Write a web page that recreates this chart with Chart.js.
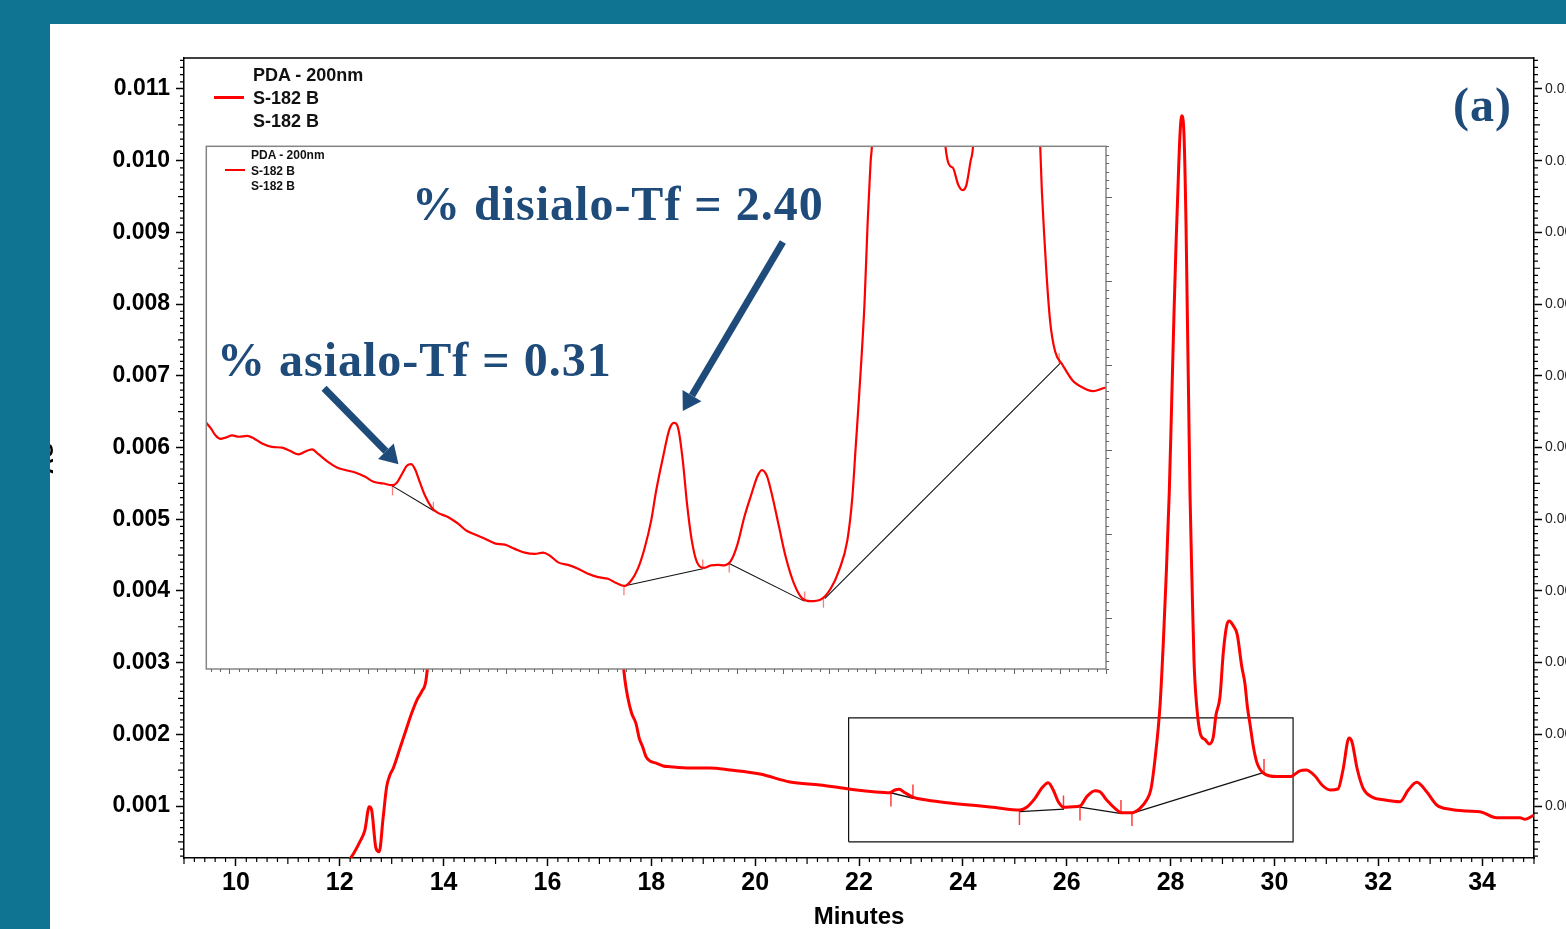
<!DOCTYPE html>
<html>
<head>
<meta charset="utf-8">
<script src="https://cdn.jsdelivr.net/npm/chart.js@4.4.1/dist/chart.umd.min.js"></script>
<style>
  html, body { margin: 0; padding: 0; width: 1566px; height: 929px; overflow: hidden; background: #0f7491; }
  #panel { position: absolute; left: 50px; top: 24px; right: 0; bottom: 0; background: #fff; }
  #principal { position: absolute; left: 0; top: 0; z-index: 1; }
  #inset { position: absolute; left: 200px; top: 140px; z-index: 2; }
  .leyenda { position: absolute; z-index: 3; font-family: 'Liberation Sans', Arial, sans-serif; font-weight: bold; color: #111; white-space: nowrap; }
  .muestra { position: absolute; z-index: 3; background: #ff0000; }
  .nota { position: absolute; z-index: 3; font-family: 'Liberation Serif', 'Times New Roman', serif; font-weight: bold; color: #1e4b7a; white-space: nowrap; font-size: 48px; line-height: 48px; letter-spacing: 1px; }
  #bordeIzq { position: absolute; left: 0; top: 0; width: 50px; height: 929px; background: #0f7491; z-index: 5; }
  #bordeSup { position: absolute; left: 0; top: 0; width: 1566px; height: 24px; background: #0f7491; z-index: 5; }
</style>
</head>
<body>
<div id="panel"></div>
<canvas id="principal" width="1620" height="940"></canvas>
<canvas id="inset" width="916" height="539"></canvas>

<div class="muestra" style="left:214px; top:96px; width:30px; height:3px;"></div>
<div class="leyenda" style="left:253px; top:64px; font-size:18px; line-height:23px;">PDA - 200nm<br>S-182 B<br>S-182 B</div>

<div class="muestra" style="left:225px; top:169px; width:20px; height:2px;"></div>
<div class="leyenda" style="left:251px; top:148px; font-size:12px; line-height:15.5px;">PDA - 200nm<br>S-182 B<br>S-182 B</div>

<div class="nota" style="left:412px; top:180px;">% disialo-Tf = 2.40</div>
<div class="nota" style="left:217px; top:336px;">% asialo-Tf = 0.31</div>
<div class="nota" style="left:1453px; top:81px;">(a)</div>

<div id="bordeIzq"></div>
<div id="bordeSup"></div>

<script>
// cromatograma principal: tiempo (min) y absorbancia (AU)
const tiempoPrincipal = [12.138, 12.228, 12.388, 12.484, 12.567, 12.614, 12.696, 12.760, 12.837, 12.903, 12.966, 13.030,
  13.159, 13.255, 13.384, 13.492, 13.577, 13.659, 13.95, 17.20, 17.492, 17.544, 17.621, 17.704, 17.768, 17.833, 17.897,
  17.974, 18.103, 18.230, 18.359, 18.744, 19.129, 19.515, 20.092, 20.670, 21.248, 21.633, 21.955, 22.275, 22.596, 22.692,
  22.775, 22.885, 23.045, 23.303, 23.688, 24.201, 24.586, 25.100, 25.229, 25.389, 25.518, 25.645, 25.741, 25.838, 25.948,
  26.127, 26.256, 26.385, 26.545, 26.641, 26.770, 26.930, 27.059, 27.252, 27.411, 27.540, 27.623, 27.700, 27.797, 27.860,
  27.912, 27.976, 28.022, 28.067, 28.105, 28.149, 28.182, 28.215, 28.259, 28.298, 28.323, 28.349, 28.374, 28.413, 28.452,
  28.504, 28.581, 28.664, 28.746, 28.823, 28.875, 28.952, 29.016, 29.081, 29.131, 29.208, 29.285, 29.370, 29.433, 29.478,
  29.530, 29.593, 29.659, 29.786, 30.044, 30.300, 30.493, 30.609, 30.782, 30.917, 31.071, 31.225, 31.321, 31.437, 31.495,
  31.591, 31.707, 31.880, 32.130, 32.419, 32.579, 32.741, 32.933, 33.126, 33.382, 33.704, 33.960, 34.282, 34.730, 34.827, 35.0];
const absPrincipal = [0.000219, 0.000293, 0.000502, 0.000665, 0.000990, 0.000944, 0.000414, 0.000363, 0.000851, 0.001269, 0.001432, 0.001526,
  0.001805, 0.002014, 0.002293, 0.002488, 0.002594, 0.002748, 0.0048, 0.0048, 0.002757, 0.002524, 0.002293, 0.002153, 0.001944, 0.001827, 0.001688,
  0.001628, 0.001596, 0.001558, 0.001548, 0.001530, 0.001530, 0.001502, 0.001446, 0.001335, 0.001293, 0.001255, 0.001223, 0.001199, 0.001185, 0.001223,
  0.001233, 0.001185, 0.001121, 0.001084, 0.001046, 0.001010, 0.000982, 0.000944, 0.000982, 0.001107, 0.001247, 0.001325, 0.001223, 0.001060, 0.000982,
  0.000990, 0.001000, 0.001130, 0.001213, 0.001199, 0.001084, 0.000968, 0.000907, 0.000907, 0.000968, 0.001084, 0.001237, 0.001647, 0.002395, 0.003265,
  0.004138, 0.005382, 0.006628, 0.007876, 0.008810, 0.009745, 0.010364, 0.010625, 0.010364, 0.009117, 0.007876, 0.006628, 0.005382, 0.004138, 0.003022,
  0.002395, 0.001990, 0.001927, 0.001865, 0.001962, 0.002269, 0.002520, 0.003141, 0.003515, 0.003580, 0.003515, 0.003391, 0.002953, 0.002706, 0.002395,
  0.002144, 0.001837, 0.001616, 0.001460, 0.001410, 0.001410, 0.001491, 0.001502, 0.001418, 0.001293, 0.001223, 0.001237, 0.001502, 0.001948, 0.001893,
  0.001530, 0.001251, 0.001126, 0.001084, 0.001060, 0.001223, 0.001331, 0.001199, 0.001014, 0.000954, 0.000930, 0.000920, 0.000837, 0.000837, 0.000815, 0.000874];

// lineas base de integracion [t1, a1, t2, a2] y marcas de inicio/fin de pico
const basePrincipal = [[22.610, 0.001185, 23.045, 0.001107], [25.100, 0.000921, 25.948, 0.000958],
  [26.256, 0.000986, 27.059, 0.000895], [27.252, 0.000898, 29.786, 0.001464]];
const marcasTiempo = [22.615, 23.039, 25.090, 25.938, 26.256, 27.045, 27.257, 29.800];
const marcasAbs = [0.001091, 0.001202, 0.000833, 0.001049, 0.000895, 0.000986, 0.000819, 0.001558];

// recuadro de la zona ampliada
const zoomTiempo = [21.8, 30.36];
const zoomAbs = [0.0005, 0.00223];

// ejes del principal
const ticksX = [10, 12, 14, 16, 18, 20, 22, 24, 26, 28, 30, 32, 34];
const ticksY = [0.001, 0.002, 0.003, 0.004, 0.005, 0.006, 0.007, 0.008, 0.009, 0.010, 0.011];
const rangoX = [9, 35];
const rangoY = [0.000275, 0.011432];

// ampliacion (inset)
const tiempoInset = [20.250, 20.296, 20.351, 20.405, 20.459, 20.531, 20.603, 20.693, 20.766, 20.855, 20.963, 21.072, 21.161,
  21.252, 21.323, 21.396, 21.468, 21.576, 21.666, 21.756, 21.864, 21.972, 22.063, 22.171, 22.261, 22.315, 22.369, 22.423,
  22.469, 22.512, 22.566, 22.621, 22.693, 22.747, 22.874, 22.982, 23.071, 23.161, 23.269, 23.377, 23.485, 23.593, 23.702,
  23.810, 23.900, 23.972, 24.063, 24.171, 24.279, 24.387, 24.495, 24.603, 24.693, 24.783, 24.855, 24.927, 24.999, 25.071,
  25.125, 25.198, 25.269, 25.317, 25.366, 25.414, 25.460, 25.511, 25.568, 25.647, 25.720, 25.792, 25.863, 25.936, 26.008,
  26.080, 26.152, 26.224, 26.271, 26.325, 26.387, 26.458, 26.530, 26.620, 26.711, 26.801, 26.909, 27.017, 27.107, 27.197,
  27.251, 27.287, 27.323, 27.384, 27.417, 27.449, 27.471, 27.900, 28.249, 28.260, 28.336, 28.400, 28.444, 28.487,
  28.530, 28.562, 28.830, 29.260, 29.287, 29.341, 29.395, 29.449, 29.525, 29.643, 29.719, 29.860, 29.968, 30.000];
const absInset = [0.001364, 0.001352, 0.001334, 0.001326, 0.001329, 0.001334, 0.001331, 0.001333, 0.001327, 0.001315, 0.001307, 0.001305, 0.001297,
  0.001289, 0.001296, 0.001301, 0.001289, 0.001270, 0.001258, 0.001252, 0.001246, 0.001236, 0.001224, 0.001220, 0.001216, 0.001222, 0.001242, 0.001262,
  0.001266, 0.001254, 0.001222, 0.001191, 0.001163, 0.001152, 0.001140, 0.001124, 0.001108, 0.001099, 0.001089, 0.001078, 0.001075, 0.001065, 0.001056,
  0.001053, 0.001056, 0.001049, 0.001033, 0.001027, 0.001018, 0.001006, 0.000998, 0.000994, 0.000984, 0.000977, 0.000990, 0.001018, 0.001066, 0.001132,
  0.001203, 0.001281, 0.001349, 0.001364, 0.001349, 0.001274, 0.001171, 0.001085, 0.001033, 0.001020, 0.001026, 0.001027, 0.001026, 0.001037, 0.001077,
  0.001140, 0.001191, 0.001238, 0.001252, 0.001238, 0.001187, 0.001116, 0.001045, 0.000982, 0.000947, 0.000941, 0.000945, 0.000971, 0.001014, 0.001085,
  0.001187, 0.001305, 0.001423, 0.001652, 0.001840, 0.001982, 0.002077, 0.010600, 0.002400, 0.002020, 0.001970, 0.001928, 0.001916, 0.001928,
  0.001982, 0.002029, 0.003580, 0.002300, 0.002020, 0.001770, 0.001604, 0.001533, 0.001503, 0.001463, 0.001451, 0.001439, 0.001446, 0.001448];
const baseInset = [[22.261, 0.001215, 22.711, 0.001156], [24.776, 0.000977, 25.630, 0.001018],
  [25.911, 0.001031, 26.730, 0.000941], [26.952, 0.000947, 29.503, 0.001505]];
const marcasInsetTiempo = [22.268, 22.711, 24.776, 25.630, 25.917, 26.735, 26.938, 29.492];
const marcasInsetAbs = [0.001204, 0.001165, 0.000967, 0.001028, 0.001021, 0.000952, 0.000937, 0.001517];
const rangoInsetX = [20.25, 30.0];
const rangoInsetY = [0.00078, 0.00202];

// flechas de las anotaciones [t desde, a desde, t hasta, a hasta]
const flechaAsialo = [21.526, 0.001446, 22.333, 0.001266];
const flechaDisialo = [26.498, 0.001793, 25.414, 0.001392];

const fuenteEje = "'Liberation Sans', Arial, sans-serif";

function puntos(ts, as) {
  return ts.map((t, i) => ({ x: t, y: as[i] }));
}

function datasetsBase(bases, grosor) {
  return bases.map(b => ({
    data: [{ x: b[0], y: b[1] }, { x: b[2], y: b[3] }],
    showLine: true, borderColor: '#111', borderWidth: grosor, pointRadius: 0
  }));
}

// marcas menores de los ejes (la libreria solo dibuja las principales)
const marcasMenores = {
  id: 'marcasMenores',
  afterDraw(chart) {
    const { ctx, chartArea } = chart;
    const x = chart.scales.x, y = chart.scales.y;
    ctx.save();
    ctx.strokeStyle = '#000';
    ctx.lineWidth = 1.2;
    ctx.beginPath();
    for (let k = 45; k <= 175; k++) {
      if (k % 10 === 0) continue;
      const px = x.getPixelForValue(k / 5);
      const largo = k % 5 === 0 ? 6 : 4;
      ctx.moveTo(px, chartArea.bottom);
      ctx.lineTo(px, chartArea.bottom + largo);
    }
    for (let k = 3; k <= 114; k++) {
      if (k % 10 === 0) continue;
      const py = y.getPixelForValue(k / 10000);
      const largo = k % 5 === 0 ? 6 : 4;
      ctx.moveTo(chartArea.left, py);
      ctx.lineTo(chartArea.left - largo, py);
      ctx.moveTo(chartArea.right, py);
      ctx.lineTo(chartArea.right + largo, py);
    }
    ctx.stroke();
    // borde superior
    ctx.lineWidth = 1.5;
    ctx.beginPath();
    ctx.moveTo(chartArea.left, chartArea.top);
    ctx.lineTo(chartArea.right, chartArea.top);
    ctx.stroke();
    ctx.restore();
  }
};

const grafico = new Chart(document.getElementById('principal'), {
  type: 'scatter',
  data: {
    datasets: [
      { data: puntos(tiempoPrincipal, absPrincipal), showLine: true, borderColor: '#ff0000', borderWidth: 3,
        pointRadius: 0, cubicInterpolationMode: 'monotone' },
      ...datasetsBase(basePrincipal, 1.3),
      { data: puntos(marcasTiempo, marcasAbs), showLine: false, pointStyle: 'line', pointRotation: 90,
        pointRadius: 7, pointBorderColor: '#ff3b3b', pointBorderWidth: 1.5 },
      { data: puntos([zoomTiempo[0], zoomTiempo[0], zoomTiempo[1], zoomTiempo[1], zoomTiempo[0]],
                     [zoomAbs[0], zoomAbs[1], zoomAbs[1], zoomAbs[0], zoomAbs[0]]),
        showLine: true, borderColor: '#111', borderWidth: 1.2, pointRadius: 0 }
    ]
  },
  options: {
    responsive: false,
    animation: false,
    layout: { padding: { top: 58, left: 0, right: 0, bottom: 0 } },
    plugins: { legend: { display: false }, tooltip: { enabled: false } },
    scales: {
      x: {
        type: 'linear', min: rangoX[0], max: rangoX[1],
        afterBuildTicks: s => { s.ticks = ticksX.map(v => ({ value: v })); },
        afterFit: s => { s.height = 82; },
        ticks: { font: { family: fuenteEje, weight: 'bold', size: 25 }, color: '#000', padding: 2, maxRotation: 0,
                 callback: v => String(v) },
        grid: { drawOnChartArea: false, tickLength: 8, tickColor: '#000', tickWidth: 1.5 },
        border: { color: '#000', width: 1.5 },
        title: { display: true, text: 'Minutes', color: '#000', font: { family: fuenteEje, weight: 'bold', size: 24 },
                 padding: { top: 0, bottom: 8.6 } }
      },
      y: {
        type: 'linear', position: 'left', min: rangoY[0], max: rangoY[1],
        afterBuildTicks: s => { s.ticks = ticksY.map(v => ({ value: v })); },
        afterFit: s => { s.width = 184; },
        ticks: { font: { family: fuenteEje, weight: 'bold', size: 23 }, color: '#000', padding: 6,
                 callback: v => v.toFixed(3) },
        grid: { drawOnChartArea: false, tickLength: 8, tickColor: '#000', tickWidth: 1.5 },
        border: { color: '#000', width: 1.5 },
        title: { display: true, text: 'AU', color: '#000', font: { family: fuenteEje, weight: 'bold', size: 22 },
                 padding: { top: 34, bottom: 0 } }
      },
      y2: {
        type: 'linear', position: 'right', min: rangoY[0], max: rangoY[1],
        afterBuildTicks: s => { s.ticks = ticksY.map(v => ({ value: v })); },
        afterFit: s => { s.width = 86; },
        ticks: { font: { family: fuenteEje, size: 14 }, color: '#222', padding: 3, callback: v => v.toFixed(3) },
        grid: { drawOnChartArea: false, tickLength: 8, tickColor: '#000', tickWidth: 1.5 },
        border: { color: '#000', width: 1.5 }
      }
    }
  },
  plugins: [marcasMenores]
});

// fondo blanco, marco, marcas y flechas del inset
const decoracionInset = {
  id: 'decoracionInset',
  beforeDraw(chart) {
    const { ctx, chartArea: a } = chart;
    ctx.save();
    ctx.fillStyle = '#fff';
    ctx.fillRect(a.left, a.top, a.right - a.left, a.bottom - a.top);
    ctx.restore();
  },
  afterDatasetsDraw(chart) {
    const { ctx } = chart;
    const x = chart.scales.x, y = chart.scales.y;
    ctx.save();
    ctx.fillStyle = '#1e4b7a';
    ctx.strokeStyle = '#1e4b7a';
    [flechaAsialo, flechaDisialo].forEach(f => {
      const x1 = x.getPixelForValue(f[0]), y1 = y.getPixelForValue(f[1]);
      const x2 = x.getPixelForValue(f[2]), y2 = y.getPixelForValue(f[3]);
      const ang = Math.atan2(y2 - y1, x2 - x1);
      const largo = 18, ancho = 11;
      const bx = x2 - Math.cos(ang) * largo, by = y2 - Math.sin(ang) * largo;
      ctx.lineWidth = 7;
      ctx.beginPath();
      ctx.moveTo(x1, y1);
      ctx.lineTo(bx, by);
      ctx.stroke();
      ctx.beginPath();
      ctx.moveTo(x2, y2);
      ctx.lineTo(bx + Math.sin(ang) * ancho, by - Math.cos(ang) * ancho);
      ctx.lineTo(bx - Math.sin(ang) * ancho, by + Math.cos(ang) * ancho);
      ctx.closePath();
      ctx.fill();
    });
    ctx.restore();
  },
  afterDraw(chart) {
    const { ctx, chartArea: a } = chart;
    const x = chart.scales.x, y = chart.scales.y;
    ctx.save();
    ctx.strokeStyle = '#858585';
    ctx.lineWidth = 1.5;
    ctx.strokeRect(a.left, a.top, a.right - a.left, a.bottom - a.top);
    ctx.strokeStyle = '#666';
    ctx.lineWidth = 1;
    ctx.beginPath();
    for (let k = 203; k <= 300; k++) {
      const px = Math.round(x.getPixelForValue(k / 10)) + 0.5;
      const largo = k % 5 === 0 ? 5 : 3;
      ctx.moveTo(px, a.bottom);
      ctx.lineTo(px, a.bottom + largo);
    }
    for (let k = 39; k <= 101; k++) {
      const py = Math.round(y.getPixelForValue(k * 0.00002)) + 0.5;
      const largo = k % 10 === 5 ? 6 : 3;
      ctx.moveTo(a.right, py);
      ctx.lineTo(a.right + largo, py);
    }
    ctx.stroke();
    ctx.restore();
  }
};

const graficoInset = new Chart(document.getElementById('inset'), {
  type: 'scatter',
  data: {
    datasets: [
      { data: puntos(tiempoInset, absInset), showLine: true, borderColor: '#ff0000', borderWidth: 2.2,
        pointRadius: 0, cubicInterpolationMode: 'monotone' },
      ...datasetsBase(baseInset, 1.1),
      { data: puntos(marcasInsetTiempo, marcasInsetAbs), showLine: false, pointStyle: 'line', pointRotation: 90,
        pointRadius: 5, pointBorderColor: '#ff7a7a', pointBorderWidth: 1.3 }
    ]
  },
  options: {
    responsive: false,
    animation: false,
    layout: { padding: { left: 4, top: 4, right: 10, bottom: 10 } },
    plugins: { legend: { display: false }, tooltip: { enabled: false } },
    scales: {
      x: { type: 'linear', display: false, min: rangoInsetX[0], max: rangoInsetX[1] },
      y: { type: 'linear', display: false, min: rangoInsetY[0], max: rangoInsetY[1] }
    }
  },
  plugins: [decoracionInset]
});
</script>
</body>
</html>
